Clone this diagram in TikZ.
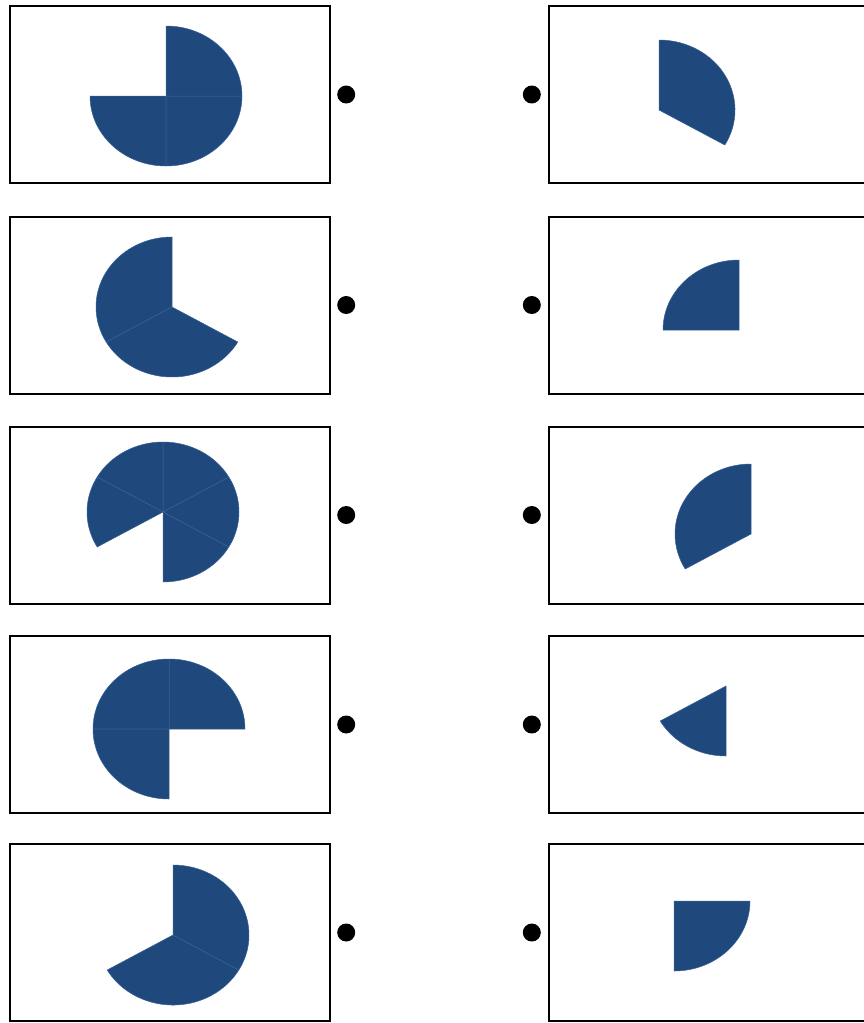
\documentclass[tikz,border=0pt]{standalone}
\usetikzlibrary{positioning}
\definecolor{pieBlue}{HTML}{1F497D}
\definecolor{pieEdge}{HTML}{3A6195}
% one wedge: centre, start angle, end angle
\newcommand{\pieslice}[3]{%
  \filldraw[pie] (#1) -- ++({76*cos(#2)},{70*sin(#2)})
    arc[start angle=#2, end angle=#3, x radius=76, y radius=70] -- cycle;}

\begin{document}
\begin{tikzpicture}[x=1pt, y=1pt,
      panel/.style={draw, line width=2pt, minimum width=320pt,
                    minimum height=177pt, inner sep=0pt},
      dot/.style={circle, fill=black, inner sep=0pt, minimum size=18pt},
      pie/.style={fill=pieBlue, draw=pieEdge, line width=0.5pt}]
    \clip (0,0) rectangle (864,-1023);

    \node[panel] (l1) at (170,-94.5) {};
    \node[panel] (l2) at (170,-305)  {};
    \node[panel] (l3) at (170,-515)  {};
    \node[panel] (l4) at (170,-724.5) {};
    \node[panel] (l5) at (170,-932.5) {};
    \node[panel] (r1) at (709,-94.5) {};
    \node[panel] (r2) at (709,-305)  {};
    \node[panel] (r3) at (709,-515)  {};
    \node[panel] (r4) at (709,-724.5) {};
    \node[panel] (r5) at (709,-932.5) {};

    \node[dot, right=6pt of l1] (dl1) {};
    \node[dot, right=6pt of l2] (dl2) {};
    \node[dot, right=6pt of l3] (dl3) {};
    \node[dot, right=6pt of l4] (dl4) {};
    \node[dot, right=6pt of l5] (dl5) {};
    \node[dot, left=7pt of r1] (dr1) {};
    \node[dot, left=7pt of r2] (dr2) {};
    \node[dot, left=7pt of r3] (dr3) {};
    \node[dot, left=7pt of r4] (dr4) {};
    \node[dot, left=7pt of r5] (dr5) {};

    % left: the pies with a piece missing
    \pieslice{166,-96}{-180}{-90} \pieslice{166,-96}{-90}{0}
    \pieslice{166,-96}{0}{90}
    \pieslice{172,-307}{90}{210} \pieslice{172,-307}{210}{330}
    \pieslice{163,-512}{-90}{-30} \pieslice{163,-512}{-30}{30}
    \pieslice{163,-512}{30}{90}   \pieslice{163,-512}{90}{150}
    \pieslice{163,-512}{150}{210}
    \pieslice{169,-729}{0}{90} \pieslice{169,-729}{90}{180}
    \pieslice{169,-729}{180}{270}
    \pieslice{173,-935}{-150}{-30} \pieslice{173,-935}{-30}{90}

    % right: the missing pieces
    \pieslice{659,-110}{-30}{90}
    \pieslice{739,-330}{90}{180}
    \pieslice{751,-534}{90}{210}
    \pieslice{726,-686}{210}{270}
    \pieslice{674,-901}{-90}{0}
  \end{tikzpicture}
\end{document}
